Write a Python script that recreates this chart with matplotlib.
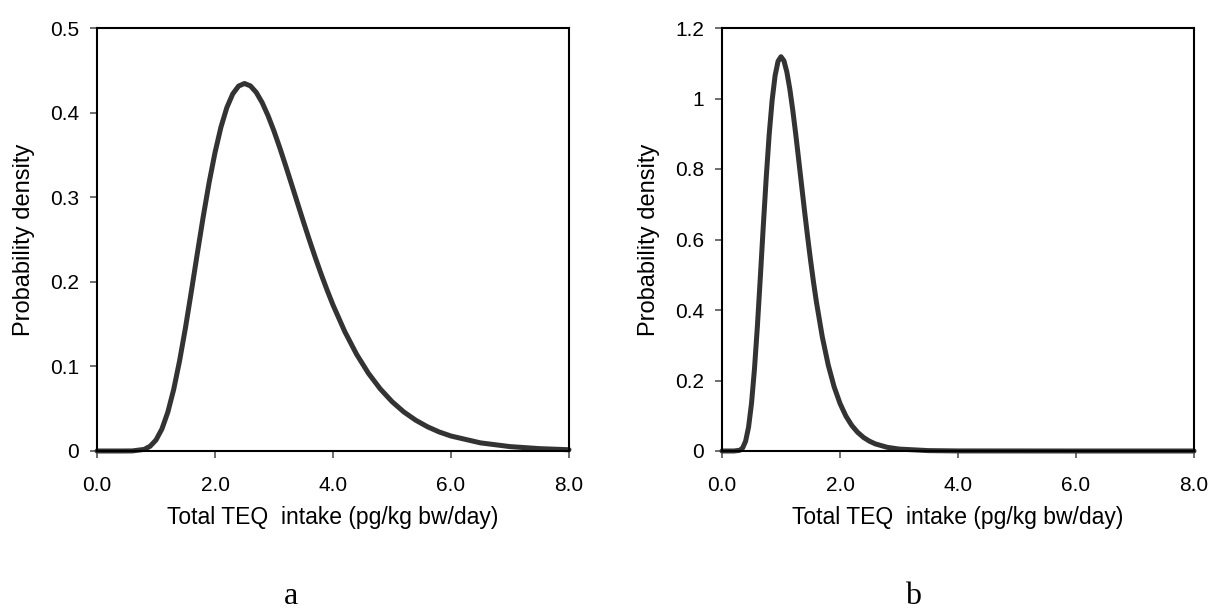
import numpy as np
import matplotlib.pyplot as plt

# panel a
xa = [0.0, 0.2, 0.4, 0.6, 0.8, 0.9, 1.0, 1.1, 1.2, 1.3, 1.4, 1.5, 1.6, 1.7, 1.8, 1.9,
      2.0, 2.1, 2.2, 2.3, 2.4, 2.5, 2.6, 2.7, 2.8, 2.9, 3.0, 3.1, 3.2, 3.3, 3.4, 3.5,
      3.6, 3.7, 3.8, 3.9, 4.0, 4.2, 4.4, 4.6, 4.8, 5.0, 5.2, 5.4, 5.6, 5.8,
      6.0, 6.5, 7.0, 7.5, 8.0]
ya = [0.0, 0.0, 0.0, 0.0001, 0.0019, 0.0056, 0.013, 0.026, 0.0458, 0.0728, 0.1067,
      0.1459, 0.189, 0.2334, 0.2768, 0.3172, 0.3527, 0.3826, 0.4058, 0.422, 0.4314,
      0.4344, 0.4316, 0.4238, 0.4117, 0.3962, 0.3781, 0.358, 0.3367, 0.3148, 0.2927,
      0.2707, 0.2493, 0.2286, 0.2089, 0.1902, 0.1726, 0.1411, 0.1143, 0.0919, 0.0735,
      0.0584, 0.0462, 0.0365, 0.0287, 0.0225, 0.0177, 0.0096, 0.0052, 0.0028, 0.0015]

# panel b
xb = [0.0, 0.2, 0.3, 0.35, 0.4, 0.45, 0.5, 0.55, 0.6, 0.65, 0.7, 0.75, 0.8, 0.85,
      0.9, 0.95, 1.0, 1.05, 1.1, 1.15, 1.2, 1.25, 1.3, 1.35, 1.4, 1.45, 1.5, 1.55,
      1.6, 1.7, 1.8, 1.9, 2.0, 2.1, 2.2, 2.3, 2.4, 2.5, 2.6, 2.8, 3.0, 3.5, 4.0,
      6.0, 8.0]
yb = [0.0, 0.0, 0.0019, 0.0087, 0.0277, 0.0675, 0.1348, 0.2318, 0.3544, 0.4939,
      0.6386, 0.7768, 0.8983, 0.9956, 1.065, 1.1056, 1.1185, 1.1069, 1.0746, 1.0263,
      0.9662, 0.8984, 0.826, 0.7524, 0.6794, 0.609, 0.5423, 0.4802, 0.4229, 0.3238,
      0.2443, 0.1823, 0.135, 0.0991, 0.0724, 0.0528, 0.0383, 0.0278, 0.0201, 0.0105,
      0.0055, 0.0011, 0.0002, 0.0, 0.0]

xticks = [0, 2, 4, 6, 8]
xticklabels = ['0.0', '2.0', '4.0', '6.0', '8.0']
yticks_a = [0, 0.1, 0.2, 0.3, 0.4, 0.5]
yticklabels_a = ['0', '0.1', '0.2', '0.3', '0.4', '0.5']
yticks_b = [0, 0.2, 0.4, 0.6, 0.8, 1.0, 1.2]
yticklabels_b = ['0', '0.2', '0.4', '0.6', '0.8', '1', '1.2']

plt.rcParams['font.family'] = ['Liberation Sans', 'DejaVu Sans']

fig = plt.figure(figsize=(12.12, 6.12), dpi=100)
W, H = 1212, 612
ax1 = fig.add_axes([97 / W, (H - 451) / H, 472 / W, 423 / H])
ax2 = fig.add_axes([722 / W, (H - 451) / H, 472 / W, 423 / H])

panels = [(ax1, xa, ya, yticks_a, yticklabels_a, 0.5),
          (ax2, xb, yb, yticks_b, yticklabels_b, 1.2)]
for ax, x, y, yt, ytl, ymax in panels:
    ax.plot(x, y, color='#333333', lw=3.6, solid_capstyle='round',
            solid_joinstyle='round', clip_on=False)
    ax.set_xlim(0, 8)
    ax.set_ylim(0, ymax)
    ax.set_xticks(xticks)
    ax.set_xticklabels(xticklabels)
    ax.set_yticks(yt)
    ax.set_yticklabels(ytl)
    for s in ax.spines.values():
        s.set_linewidth(1.5)
        s.set_color('black')
    ax.tick_params(axis='both', direction='out', length=5, width=1.2,
                   color='#555555', labelsize=15)
    ax.tick_params(axis='x', pad=13)
    ax.tick_params(axis='y', pad=8)
    ax.set_xlabel('Total TEQ  intake (pg/kg bw/day)', fontsize=16.5, labelpad=8)
    ax.set_ylabel('Probability density', fontsize=17, labelpad=11)

fig.text(291 / W, 0.002, 'a', fontsize=23, family='Liberation Serif',
         ha='center', va='bottom')
fig.text(913 / W, 0.002, 'b', fontsize=23, family='Liberation Serif',
         ha='center', va='bottom')

fig.savefig('out.png', dpi=100)
